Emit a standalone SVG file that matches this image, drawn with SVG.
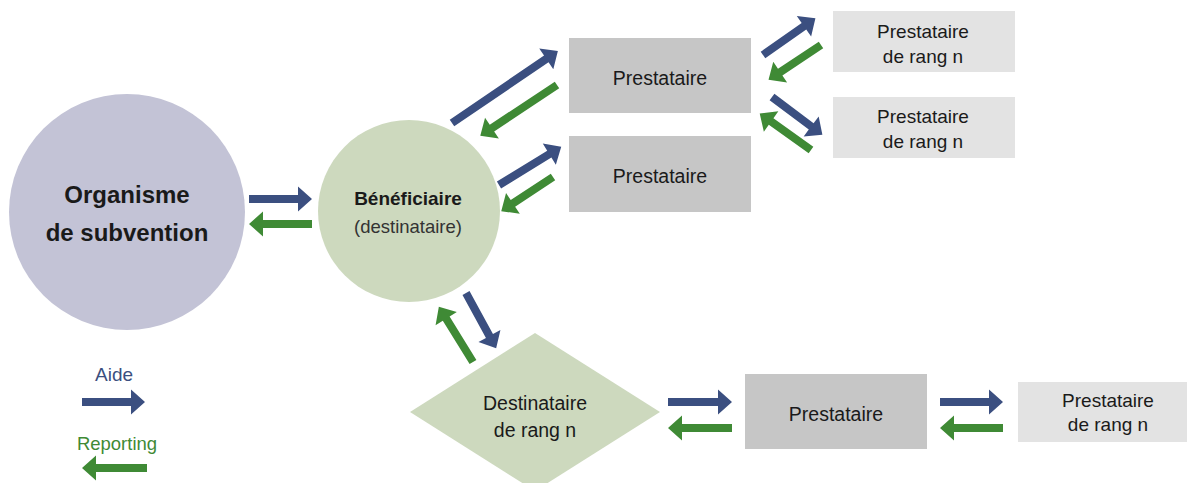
<svg xmlns="http://www.w3.org/2000/svg" width="1187" height="483" viewBox="0 0 1187 483">
<style>
.t{font-family:"Liberation Sans",Arial,sans-serif;fill:#1a1a1a;text-anchor:middle}
.b{font-weight:bold}
.aide{fill:#3b4f80}
.rep{fill:#3f8a35}
.gray{fill:#c6c6c6}
.light{fill:#e3e3e3}
.greenfill{fill:#cdd9be}
</style>
<rect width="1187" height="483" fill="#ffffff"/>
<g id="organisme">
<circle cx="127" cy="212" r="118" fill="#c3c3d6"/>
<text class="t b" x="127" y="203" font-size="24">Organisme</text>
<text class="t b" x="127" y="241" font-size="24">de subvention</text>
</g>
<g id="beneficiaire">
<circle cx="409" cy="211" r="91" class="greenfill"/>
<text class="t b" x="408" y="205" font-size="19">Bénéficiaire</text>
<text class="t" x="408" y="233" font-size="18.5" style="fill:#333">(destinataire)</text>
</g>
<g id="prestataire1">
<rect x="569" y="38" width="182" height="75" class="gray"/>
<text class="t" x="660" y="85" font-size="19.5">Prestataire</text>
</g>
<g id="prestataire2">
<rect x="569" y="136" width="182" height="76" class="gray"/>
<text class="t" x="660" y="183" font-size="19.5">Prestataire</text>
</g>
<g id="prestataire-rang-n-1">
<rect x="833" y="11" width="182" height="61" class="light"/>
<text class="t" x="923" y="38" font-size="19">Prestataire</text>
<text class="t" x="923" y="63" font-size="19">de rang n</text>
</g>
<g id="prestataire-rang-n-2">
<rect x="833" y="97" width="182" height="61" class="light"/>
<text class="t" x="923" y="123" font-size="19">Prestataire</text>
<text class="t" x="923" y="148" font-size="19">de rang n</text>
</g>
<g id="destinataire-rang-n">
<polygon points="410,412 535,333 660,412 535,491" class="greenfill"/>
<text class="t" x="535" y="410" font-size="19.5">Destinataire</text>
<text class="t" x="535" y="437" font-size="19.5">de rang n</text>
</g>
<g id="prestataire3">
<rect x="745" y="374" width="182" height="75" class="gray"/>
<text class="t" x="836" y="421" font-size="19.5">Prestataire</text>
</g>
<g id="prestataire-rang-n-3">
<rect x="1018" y="382" width="169" height="60" class="light"/>
<text class="t" x="1108" y="407" font-size="19">Prestataire</text>
<text class="t" x="1108" y="431" font-size="19">de rang n</text>
</g>
<g id="legend">
<text class="t aide" x="114" y="381" font-size="19">Aide</text>
<text class="t rep" x="117" y="450" font-size="18.5">Reporting</text>
<path class="aide" transform="translate(82,402)" d="M0,-4 H49 V-12.5 L63,0 L49,12.5 V4 H0 Z"/>
<path class="rep" transform="translate(147,468) rotate(180)" d="M0,-4 H51 V-12.5 L65,0 L51,12.5 V4 H0 Z"/>
</g>
<g id="connectors">
<path class="aide" transform="translate(249,199)" d="M0,-4 H49 V-12.5 L63,0 L49,12.5 V4 H0 Z"/>
<path class="rep" transform="translate(312,224) rotate(180)" d="M0,-4 H49 V-12.5 L63,0 L49,12.5 V4 H0 Z"/>
<path class="aide" transform="translate(452,123) rotate(-34.2)" d="M0,-4 H114 V-12.5 L128,0 L114,12.5 V4 H0 Z"/>
<path class="rep" transform="translate(557,85) rotate(146.5)" d="M0,-4 H78 V-12.5 L92,0 L78,12.5 V4 H0 Z"/>
<path class="aide" transform="translate(499,185) rotate(-31.5)" d="M0,-4 H59 V-12.5 L73,0 L59,12.5 V4 H0 Z"/>
<path class="rep" transform="translate(553,177) rotate(146.6)" d="M0,-4 H48 V-12.5 L62,0 L48,12.5 V4 H0 Z"/>
<path class="aide" transform="translate(763,55) rotate(-35)" d="M0,-4 H50 V-12.5 L64,0 L50,12.5 V4 H0 Z"/>
<path class="rep" transform="translate(821,45) rotate(146.4)" d="M0,-4 H49 V-12.5 L63,0 L49,12.5 V4 H0 Z"/>
<path class="aide" transform="translate(772,97) rotate(36.9)" d="M0,-4 H49 V-12.5 L63,0 L49,12.5 V4 H0 Z"/>
<path class="rep" transform="translate(811,150) rotate(-144.5)" d="M0,-4 H49 V-12.5 L63,0 L49,12.5 V4 H0 Z"/>
<path class="aide" transform="translate(466,293) rotate(61.4)" d="M0,-4 H49 V-12.5 L63,0 L49,12.5 V4 H0 Z"/>
<path class="rep" transform="translate(473,362) rotate(-121.7)" d="M0,-4 H51 V-12.5 L65,0 L51,12.5 V4 H0 Z"/>
<path class="aide" transform="translate(668,402)" d="M0,-4 H50 V-12.5 L64,0 L50,12.5 V4 H0 Z"/>
<path class="rep" transform="translate(732,428) rotate(180)" d="M0,-4 H50 V-12.5 L64,0 L50,12.5 V4 H0 Z"/>
<path class="aide" transform="translate(940,402)" d="M0,-4 H49 V-12.5 L63,0 L49,12.5 V4 H0 Z"/>
<path class="rep" transform="translate(1003,428) rotate(180)" d="M0,-4 H49 V-12.5 L63,0 L49,12.5 V4 H0 Z"/>
</g>
</svg>
